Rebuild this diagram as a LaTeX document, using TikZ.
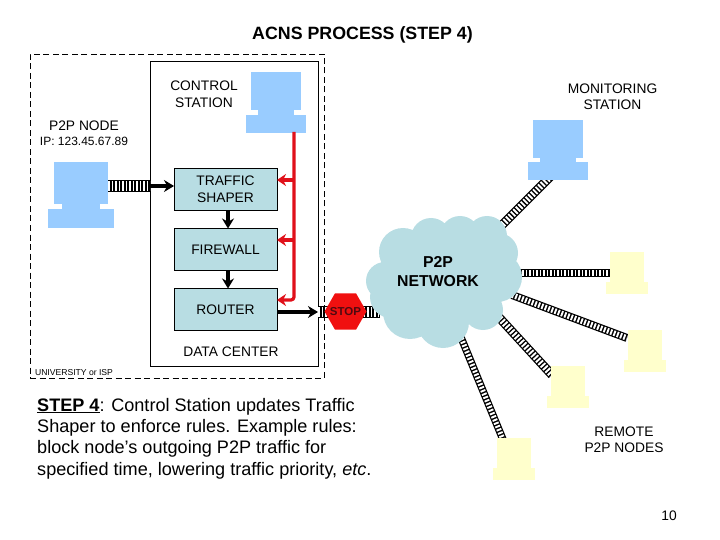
\documentclass[tikz,border=0pt]{standalone}
\usepackage{fontspec}
\setmainfont{Liberation Sans}
\usetikzlibrary{positioning, arrows.meta, shapes.geometric}

\definecolor{bluepc}{HTML}{99CCFF}
\definecolor{yellowpc}{HTML}{FFFFCC}
\definecolor{tealbox}{HTML}{B8DDE3}
\definecolor{redlink}{HTML}{E0101A}
\definecolor{stopred}{HTML}{F01010}
\definecolor{stoptext}{HTML}{500A10}

\tikzset{
  part/.style={rectangle, inner sep=0pt, outer sep=0pt},
  bluepart/.style={part, fill=bluepc},
  yellowpart/.style={part, fill=yellowpc},
  device/.style={part, draw=black, line width=0.9pt, fill=tealbox, minimum width=103pt, minimum height=42pt, align=center, font=\fontsize{13.8}{17}\selectfont},
  txt/.style={inner sep=0pt, align=center, font=\fontsize{13.8}{16.5}\selectfont},
  cable/.style={draw=white, line width=#1pt-2.4pt, dash pattern=on 1.9pt off 1.6pt, preaction={draw=black, solid, line width=#1pt}},
  blackarrow/.style={-{Stealth[length=10pt, width=12pt]}, line width=3.8pt, black},
  redarrow/.style={-{Stealth[length=9pt, width=12pt]}, line width=3.2pt, redlink},
}

\begin{document}
\begin{tikzpicture}[x=1pt, y=-1pt, node distance=18pt]
  \useasboundingbox (0,0) rectangle (720,540);

  % site boundaries
  \node[part, draw=black, dash pattern=on 6pt off 3.5pt, line width=0.9pt, minimum width=294pt, minimum height=324pt] (campus) at (177,216) {};
  \node[part, draw=black, line width=0.9pt, minimum width=168pt, minimum height=305pt] (center) at (234,213.5) {};

  % data center
  \node[device] (shaper) at (225.5,189.5) {TRAFFIC\\SHAPER};
  \node[device, below=of shaper] (firewall) {FIREWALL};
  \node[device, below=of firewall] (router) {ROUTER};

  \coordinate (peerout) at (108,186);
  \coordinate (gate) at (318,312);
  \coordinate (netw) at (380,312);
  \coordinate (netn) at (500,227);
  \coordinate (monin) at (552,175);
  \coordinate (neta) at (515,273);
  \coordinate (remain) at (610,273);
  \coordinate (netb) at (512,295);
  \coordinate (rembin) at (627,338);
  \coordinate (netc) at (495,313);
  \coordinate (remcin) at (552,375);
  \coordinate (netd) at (460,335);
  \coordinate (remdin) at (504,442);
  \coordinate (redtop) at (294,132);

  % cables
  \draw[cable=12.5] (peerout) -- (150,186);
  \draw[cable=12.5] (gate) -- (netw);
  \draw[cable=9] (netn) -- (monin);
  \draw[cable=7.5] (neta) -- (remain);
  \draw[cable=8] (netb) -- (rembin);
  \draw[cable=9] (netc) -- (remcin);
  \draw[cable=7.5] (netd) -- (remdin);

  % computers
  \node[bluepart, minimum width=50pt, minimum height=38pt] (ctrl) at (276,91) {};
  \node[bluepart, minimum width=36pt, minimum height=5pt, below=0pt of ctrl] (ctrlneck) {};
  \node[bluepart, minimum width=60pt, minimum height=18pt, below=0pt of ctrlneck] (ctrlbase) {};

  \node[bluepart, minimum width=54pt, minimum height=42pt] (peer) at (81,183) {};
  \node[bluepart, minimum width=38pt, minimum height=5pt, below=0pt of peer] (peerneck) {};
  \node[bluepart, minimum width=66pt, minimum height=19pt, below=0pt of peerneck] (peerbase) {};

  \node[bluepart, minimum width=50pt, minimum height=38pt] (mon) at (558,139) {};
  \node[bluepart, minimum width=36pt, minimum height=4pt, below=0pt of mon] (monneck) {};
  \node[bluepart, minimum width=60pt, minimum height=18pt, below=0pt of monneck] (monbase) {};

  \node[yellowpart, minimum width=34pt, minimum height=30pt] (rema) at (627,267) {};
  \node[yellowpart, minimum width=42pt, minimum height=12pt, below=0pt of rema] (remabase) {};
  \node[yellowpart, minimum width=34pt, minimum height=30pt] (remb) at (645,345) {};
  \node[yellowpart, minimum width=42pt, minimum height=12pt, below=0pt of remb] (rembbase) {};
  \node[yellowpart, minimum width=34pt, minimum height=30pt] (remc) at (568,381) {};
  \node[yellowpart, minimum width=42pt, minimum height=12pt, below=0pt of remc] (remcbase) {};
  \node[yellowpart, minimum width=34pt, minimum height=30pt] (remd) at (513.5,453) {};
  \node[yellowpart, minimum width=42pt, minimum height=12pt, below=0pt of remd] (remdbase) {};

  % cloud
  \fill[tealbox] (385,281) circle [radius=19] (403,252) circle [radius=24]
    (431,238) circle [radius=20] (460,236) circle [radius=20] (487,236) circle [radius=20]
    (498,253) circle [radius=20] (497,277) circle [radius=25] (483,310) circle [radius=20]
    (443,322) circle [radius=26] (410,312) circle [radius=27] (391,297) circle [radius=21]
    (445,280) circle [radius=50];
  \node[txt, font=\fontsize{15.8}{19}\selectfont\bfseries] (netlabel) at (438,272) {P2P\\NETWORK};

  % stop sign
  \node[regular polygon, regular polygon sides=6, fill=stopred, inner sep=0pt, outer sep=0pt, minimum size=42pt,
        label={[font=\fontsize{11.5}{12}\selectfont\bfseries, text=stoptext, inner sep=0pt]center:STOP}] (stop) at (345.5,311.5) {};

  % black links
  \draw[blackarrow] (150,186) -- (shaper.west |- 150,186);
  \draw[blackarrow] ([xshift=2.5pt]shaper.south) -- ([xshift=2.5pt]firewall.north);
  \draw[blackarrow] ([xshift=2.5pt]firewall.south) -- ([xshift=2.5pt]router.north);
  \draw[blackarrow] (router.east |- gate) -- (gate);

  % control links
  \draw[redarrow, rounded corners=3pt] (redtop) |- ([yshift=9.5pt]router.east);
  \draw[redarrow] (redtop |- 0,180) -- ([yshift=9.5pt]shaper.east);
  \draw[redarrow] (redtop |- 0,240) -- ([yshift=9.5pt]firewall.east);

  % text
  \node[txt, font=\fontsize{17.8}{21}\selectfont\bfseries] (title) at (362.5,34.5) {ACNS PROCESS (STEP 4)};
  \node[txt] (ctrllabel) at (204,94.5) {CONTROL\\STATION};
  \node[txt] (monlabel) at (612.5,97) {MONITORING\\STATION};
  \node[txt] (peerlabel) at (84,125.5) {P2P NODE};
  \node[txt, font=\fontsize{12}{14}\selectfont] (iplabel) at (84,141.5) {IP: 123.45.67.89};
  \node[txt] (dclabel) at (231,351.5) {DATA CENTER};
  \node[txt, font=\fontsize{8.6}{11}\selectfont] (isplabel) at (74,373) {UNIVERSITY or ISP};
  \node[txt] (remlabel) at (624,439.5) {REMOTE\\P2P NODES};
  \node[txt] (pagenum) at (669,515.5) {10};
  \node[txt, align=left, anchor=west, font=\fontsize{18.1}{21.4}\selectfont] (note) at (37,438.5)
    {\underline{\textbf{STEP 4}}:  Control Station updates Traffic\\Shaper to enforce rules.  Example rules:\\block node’s outgoing P2P traffic for\\specified time, lowering traffic priority, \textit{etc}.};
\end{tikzpicture}
\end{document}
